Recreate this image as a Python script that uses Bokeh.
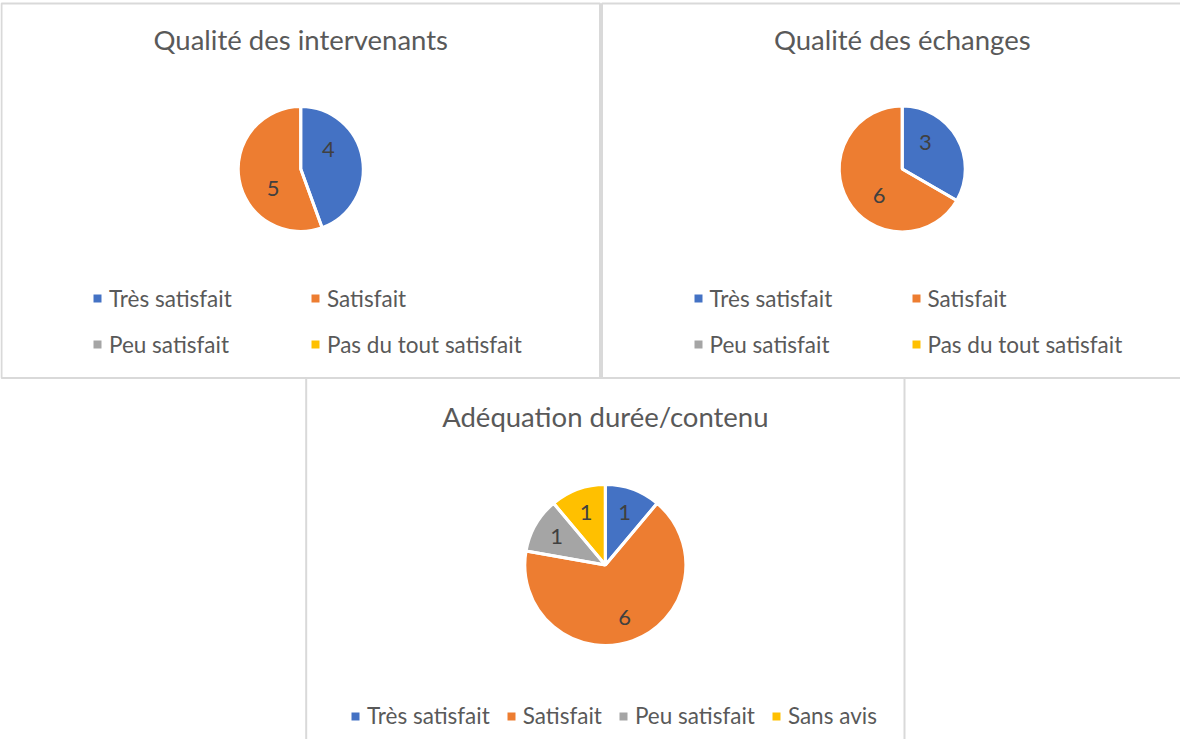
import numpy as np
from bokeh.plotting import figure
from bokeh.models import ColumnDataSource, Legend, LegendItem, Range1d
from bokeh.core.properties import value
from bokeh.embed import file_html
from bokeh.resources import INLINE

# ---------------- data ----------------
titles = ["Qualité des intervenants", "Qualité des échanges", "Adéquation durée/contenu"]

categories_1 = ["Très satisfait", "Satisfait", "Peu satisfait", "Pas du tout satisfait"]
values_1 = [4, 5, 0, 0]

categories_2 = ["Très satisfait", "Satisfait", "Peu satisfait", "Pas du tout satisfait"]
values_2 = [3, 6, 0, 0]

categories_3 = ["Très satisfait", "Satisfait", "Peu satisfait", "Sans avis"]
values_3 = [1, 6, 1, 1]

colors = ["#4472C4", "#ED7D31", "#A5A5A5", "#FFC000"]

# ---------------- layout (page pixels) ----------------
W, H = 1180, 739
MARGIN = 8
VIEW_H = 755
FONT = "Lato"
TEXT_COLOR = "#595959"
LABEL_COLOR = "#404040"
BORDER_COLOR = "#D9D9D9"
FRAME_BOTTOM = MARGIN + H  # page y of the figure's bottom edge


def Y(sy):
    """page y (downwards) -> data y (upwards)"""
    return VIEW_H - sy


panels = [
    dict(box=(9, 11, 607.5, 385.5), cy_off=165.5, r=62.5, frac=0.54, rot=25,
         legend="grid", title_off=36),
    dict(box=(609.5, 11, 1210, 385.5), cy_off=165.5, r=63, frac=0.56, rot=19,
         legend="grid", title_off=36),
    dict(box=(313.7, 385.5, 912, 760), cy_off=187, r=80.5, frac=0.70, rot=0,
         legend="row", title_off=38),
]
datasets = [(categories_1, values_1), (categories_2, values_2), (categories_3, values_3)]

p = figure(width=W, height=H, x_range=Range1d(MARGIN, MARGIN + W),
           y_range=Range1d(VIEW_H - FRAME_BOTTOM, VIEW_H - MARGIN),
           output_backend="svg", toolbar_location=None, min_border=0,
           x_axis_location=None, y_axis_location=None)
p.outline_line_color = None
p.background_fill_color = "white"
p.border_fill_color = "white"
p.grid.visible = False
p.xgrid.visible = False
p.ygrid.visible = False

LEG_ITEM_H = 28


def make_legend(items, box_left, row_center, label_width, spacing):
    return Legend(items=items, orientation="horizontal",
                  location=(box_left - MARGIN, FRAME_BOTTOM - (row_center + LEG_ITEM_H / 2)),
                  label_text_font=FONT, label_text_font_size="22.5px",
                  label_text_color=TEXT_COLOR,
                  glyph_width=10, glyph_height=10, label_standoff=7,
                  label_width=label_width, label_height=LEG_ITEM_H,
                  spacing=spacing, padding=0, margin=0,
                  background_fill_alpha=0, border_line_color=None)


for (cats, vals), title, pan in zip(datasets, titles, panels):
    left, top, right, bottom = pan["box"]
    # panel frame
    p.quad(left=[left], right=[right], top=[Y(top)], bottom=[Y(bottom)],
           fill_color=None, line_color=BORDER_COLOR, line_width=2)
    cx = (left + right) / 2
    cy = Y(top + pan["cy_off"])
    # title
    p.text(x=[cx], y=[Y(top + pan["title_off"])], text=[title], text_font=value(FONT),
           text_font_size="27.5px", text_color=TEXT_COLOR, text_align="center",
           text_baseline="middle")

    vals_arr = np.array(vals, dtype=float)
    total = vals_arr.sum()
    cum = np.concatenate([[0], np.cumsum(vals_arr)])
    starts = np.pi / 2 - 2 * np.pi * cum[:-1] / total
    ends = np.pi / 2 - 2 * np.pi * cum[1:] / total
    mids = (starts + ends) / 2 + np.deg2rad(pan["rot"])
    radii = np.where(vals_arr > 0, pan["r"], 0.0)

    items = []
    for i, cat in enumerate(cats):
        src = ColumnDataSource(dict(x=[cx], y=[cy], r=[radii[i]], s=[starts[i]], e=[ends[i]]))
        rend = p.wedge(x="x", y="y", radius="r", start_angle="s", end_angle="e",
                       direction="clock", fill_color=colors[i], line_color=None, source=src)
        items.append(LegendItem(label=cat, renderers=[rend]))

    # white slice separators
    mask = vals_arr > 0
    sep = ColumnDataSource(dict(x=[cx] * int(mask.sum()), y=[cy] * int(mask.sum()),
                                s=starts[mask], e=ends[mask]))
    p.wedge(x="x", y="y", radius=pan["r"], start_angle="s", end_angle="e",
            direction="clock", fill_color=None, line_color="white", line_width=3,
            source=sep)

    # data labels
    lx = cx + pan["frac"] * pan["r"] * np.cos(mids[mask])
    ly = cy + pan["frac"] * pan["r"] * np.sin(mids[mask])
    p.text(x=lx, y=ly, text=[str(int(v)) for v in vals_arr[mask]], text_font=value(FONT),
           text_font_size="22px", text_color=LABEL_COLOR, text_align="center",
           text_baseline="middle")

    if pan["legend"] == "grid":
        box_left = left + 91
        p.add_layout(make_legend(items[:2], box_left, 306, 183, 18))
        p.add_layout(make_legend(items[2:], box_left, 352, 183, 18))
    else:
        p.add_layout(make_legend(items, 358, 723.5, 20, 16))

open("out.html", "w").write(file_html(p, INLINE))
